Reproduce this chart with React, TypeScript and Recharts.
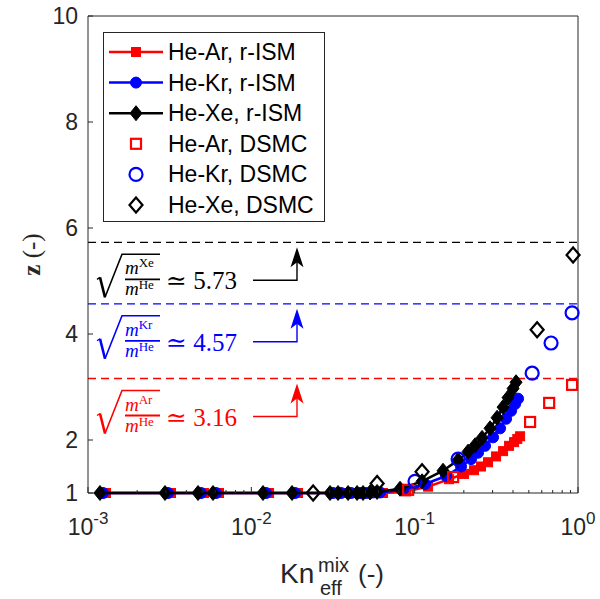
import React from 'react';
import { ComposedChart, Scatter, XAxis, YAxis, ReferenceLine } from 'recharts';

const AXIS = '#262626';
const RED = '#ff0000';
const BLUE = '#0000ff';
const BLACK = '#000000';
const SANS = '"Liberation Sans", Arial, sans-serif';
const SERIF = '"Liberation Serif", "DejaVu Serif", serif';

// r-ISM curves: effective mixture Knudsen number and z
const knArIsm = [0.001289, 0.003223, 0.005134, 0.00634, 0.01284, 0.01932, 0.03302, 0.03696, 0.04255, 0.04831, 0.05256, 0.05802, 0.06405, 0.08858, 0.1208, 0.1624, 0.2007, 0.231, 0.2549, 0.2813, 0.315, 0.3478, 0.3784, 0.4062, 0.425, 0.442];
const zArIsm = [1, 1, 1, 1, 1, 1, 1, 1, 1, 1, 1, 1, 1.0, 1.03, 1.12, 1.26, 1.36, 1.43, 1.5, 1.58, 1.69, 1.79, 1.89, 1.96, 2.02, 2.07];

const knKrIsm = [0.001235, 0.00309, 0.004921, 0.006078, 0.0123, 0.01852, 0.03166, 0.03543, 0.04078, 0.04629, 0.0504, 0.05563, 0.0614, 0.08489, 0.1158, 0.1557, 0.1923, 0.2215, 0.2444, 0.2698, 0.302, 0.3334, 0.3628, 0.3893, 0.4119, 0.4297];
const zKrIsm = [1, 1, 1, 1, 1, 1, 1, 1, 1, 1, 1, 1.01, 1.01, 1.06, 1.17, 1.32, 1.5, 1.64, 1.76, 1.89, 2.05, 2.22, 2.4, 2.55, 2.68, 2.78];

const knXeIsm = [0.001184, 0.002961, 0.004717, 0.005826, 0.01179, 0.01775, 0.03033, 0.03396, 0.03911, 0.0444, 0.04831, 0.05332, 0.05885, 0.08137, 0.111, 0.1492, 0.1844, 0.2123, 0.2344, 0.2587, 0.2895, 0.3196, 0.3478, 0.3731, 0.4004, 0.4177];
const zXeIsm = [1, 1, 1, 1, 1, 1, 1, 1, 1, 1, 1, 1.01, 1.02, 1.08, 1.22, 1.42, 1.62, 1.78, 1.9, 2.04, 2.22, 2.42, 2.62, 2.8, 2.97, 3.09];

// DSMC points
const knArDsmc = [0.0912, 0.172, 0.509, 0.666, 0.92];
const zArDsmc = [1.06, 1.3, 2.34, 2.7, 3.04];
const knKrDsmc = [0.1005, 0.1845, 0.524, 0.684, 0.92];
const zKrDsmc = [1.22, 1.64, 3.26, 3.83, 4.4];
const knXeDsmc = [0.0239, 0.0589, 0.111, 0.562, 0.933];
const zXeDsmc = [1.0, 1.18, 1.4, 4.08, 5.49];

// sqrt(m_gas / m_He) limits
const massRatios = [
  { gas: 'Xe', value: 5.73, color: BLACK },
  { gas: 'Kr', value: 4.57, color: BLUE },
  { gas: 'Ar', value: 3.16, color: RED },
];

const xTicks = [0.001, 0.002, 0.003, 0.004, 0.005, 0.006, 0.007, 0.008, 0.009, 0.01, 0.02, 0.03, 0.04, 0.05, 0.06, 0.07, 0.08, 0.09, 0.1, 0.2, 0.3, 0.4, 0.5, 0.6, 0.7, 0.8, 0.9, 1];
const yTicks = [1, 2, 4, 6, 8, 10];

const pts = (kn: number[], z: number[]) => kn.map((k, i) => ({ kn: k, z: z[i] }));

type MarkerKind = 'square' | 'circle' | 'diamond';

const Marker = ({ kind, cx, cy, color, open }: { kind: MarkerKind; cx: number; cy: number; color: string; open?: boolean }) => {
  const fill = open ? 'none' : color;
  const sw = open ? 2.2 : 1;
  if (kind === 'square') {
    const s = open ? 10 : 9;
    return <rect x={cx - s / 2} y={cy - s / 2} width={s} height={s} fill={fill} stroke={color} strokeWidth={sw} />;
  }
  if (kind === 'circle') {
    return <circle cx={cx} cy={cy} r={open ? 6.5 : 5.5} fill={fill} stroke={color} strokeWidth={sw} />;
  }
  const w = open ? 6.5 : 6;
  const h = open ? 7.5 : 7.5;
  return <path d={`M${cx},${cy - h} L${cx + w},${cy} L${cx},${cy + h} L${cx - w},${cy} Z`} fill={fill} stroke={color} strokeWidth={sw} />;
};

const shapeOf = (kind: MarkerKind, color: string, open?: boolean) => (p: any) =>
  <Marker kind={kind} cx={p.cx} cy={p.cy} color={color} open={open} />;

const isDecade = (v: number) => Math.abs(Math.log10(v) - Math.round(Math.log10(v))) < 1e-6;

const BottomTick = (props: any) => {
  const { x, y, payload } = props;
  const major = isDecade(payload.value);
  return (
    <g>
      <line x1={x} x2={x} y1={y} y2={y - (major ? 6 : 3)} stroke={AXIS} strokeWidth={1} />
      {major && (
        <text x={x} y={y + 42} textAnchor="middle" fill={AXIS} fontFamily={SANS} fontSize={23}>
          10<tspan dy={-11} fontSize={17}>{String(Math.round(Math.log10(payload.value)))}</tspan>
        </text>
      )}
    </g>
  );
};

const TopTick = (props: any) => {
  const { x, y, payload } = props;
  const major = isDecade(payload.value);
  return <line x1={x} x2={x} y1={y} y2={y + (major ? 6 : 3)} stroke={AXIS} strokeWidth={1} />;
};

const LeftTick = (props: any) => {
  const { x, y, payload } = props;
  return (
    <g>
      <line x1={x} x2={x + 5} y1={y} y2={y} stroke={AXIS} strokeWidth={1} />
      <text x={x - 10} y={y + 8} textAnchor="end" fill={AXIS} fontFamily={SANS} fontSize={23}>
        {payload.value}
      </text>
    </g>
  );
};

const RightTick = (props: any) => {
  const { x, y } = props;
  return <line x1={x} x2={x - 5} y1={y} y2={y} stroke={AXIS} strokeWidth={1} />;
};

// sqrt(m^gas / m^He) ≃ value, with an elbow arrow pointing at the dashed limit
const RatioNote = (props: any) => {
  const { viewBox, gas, value, color } = props;
  const x = viewBox.x;
  const y = viewBox.y;
  const cy = y + 38;
  const ax = x + 209;
  return (
    <g>
      <path d={`M${x + 9},${cy - 1} L${x + 12},${cy - 3}`} stroke={color} strokeWidth={1.4} fill="none" />
      <path d={`M${x + 12},${cy - 3} L${x + 17},${cy + 17}`} stroke={color} strokeWidth={2.6} fill="none" />
      <path d={`M${x + 17},${cy + 17} L${x + 34},${cy - 26} L${x + 72},${cy - 26}`} stroke={color} strokeWidth={1.6} fill="none" />
      <line x1={x + 37} x2={x + 72} y1={cy - 1} y2={cy - 1} stroke={color} strokeWidth={1.8} />
      <text x={x + 37} y={cy - 6} fill={color} fontFamily={SERIF} fontSize={19} fontStyle="italic">
        m<tspan dy={-7} fontSize={13} fontStyle="normal">{gas}</tspan>
      </text>
      <text x={x + 37} y={cy + 15} fill={color} fontFamily={SERIF} fontSize={19} fontStyle="italic">
        m<tspan dy={-6} fontSize={13} fontStyle="normal">He</tspan>
      </text>
      <text x={x + 78} y={cy + 9} fill={color} fontFamily={SERIF} fontSize={25}>
        ≃ {value.toFixed(2)}
      </text>
      <path d={`M${x + 165},${cy} L${ax},${cy} L${ax},${y + 18}`} stroke={color} strokeWidth={1.4} fill="none" />
      <path d={`M${ax},${y + 5} L${ax + 6.5},${y + 25} L${ax},${y + 20} L${ax - 6.5},${y + 25} Z`} fill={color} />
    </g>
  );
};

const XLabel = (props: any) => {
  const { viewBox } = props;
  const cx = viewBox.x + viewBox.width / 2;
  const base = viewBox.y + 90;
  return (
    <g fill={AXIS} fontFamily={SANS}>
      <text x={cx - 53} y={base} fontSize={28}>Kn</text>
      <text x={cx - 15} y={base - 11} fontSize={20}>mix</text>
      <text x={cx - 13} y={base + 12} fontSize={20}>eff</text>
      <text x={cx + 25} y={base} fontSize={26}>(-)</text>
    </g>
  );
};

const YLabel = (props: any) => {
  const { viewBox } = props;
  const cy = viewBox.y + viewBox.height / 2;
  const lx = 40;
  return (
    <text x={lx} y={cy} transform={`rotate(-90, ${lx}, ${cy})`} textAnchor="middle" fill={AXIS} fontFamily={SERIF} fontSize={25}>
      <tspan fontWeight="bold">z</tspan> (-)
    </text>
  );
};

const legendRows: { label: string; color: string; kind: MarkerKind; open: boolean }[] = [
  { label: 'He-Ar, r-ISM', color: RED, kind: 'square', open: false },
  { label: 'He-Kr, r-ISM', color: BLUE, kind: 'circle', open: false },
  { label: 'He-Xe, r-ISM', color: BLACK, kind: 'diamond', open: false },
  { label: 'He-Ar, DSMC', color: RED, kind: 'square', open: true },
  { label: 'He-Kr, DSMC', color: BLUE, kind: 'circle', open: true },
  { label: 'He-Xe, DSMC', color: BLACK, kind: 'diamond', open: true },
];

const LegendBox = () => (
  <svg width={223} height={191} style={{ position: 'absolute', left: 103, top: 32, display: 'block' }}>
    <rect x={0.5} y={0.5} width={221} height={189} fill="#fff" stroke={AXIS} strokeWidth={1} />
    {legendRows.map((r, i) => {
      const ry = 20 + i * 30.6;
      return (
        <g key={r.label}>
          {!r.open && <line x1={6} x2={60} y1={ry} y2={ry} stroke={r.color} strokeWidth={2.5} />}
          <Marker kind={r.kind} cx={33} cy={ry} color={r.color} open={r.open} />
          <text x={65} y={ry + 8} fill={BLACK} fontFamily={SANS} fontSize={23}>{r.label}</text>
        </g>
      );
    })}
  </svg>
);

export default function App() {
  return (
    <div style={{ position: 'absolute', left: 0, top: 0, width: 600, height: 599, background: '#fff' }}>
      <ComposedChart width={600} height={599} margin={{ top: 15, right: 21, bottom: 66, left: 28 }}>
        <XAxis
          dataKey="kn"
          type="number"
          scale="log"
          domain={[0.001, 1]}
          ticks={xTicks}
          interval={0}
          height={40}
          tickSize={0}
          tickMargin={0}
          tickLine={false}
          axisLine={{ stroke: AXIS }}
          tick={<BottomTick />}
          label={<XLabel />}
        />
        <XAxis
          xAxisId="top"
          orientation="top"
          type="number"
          scale="log"
          domain={[0.001, 1]}
          ticks={xTicks}
          interval={0}
          height={1}
          tickSize={0}
          tickMargin={0}
          tickLine={false}
          axisLine={{ stroke: AXIS }}
          tick={<TopTick />}
        />
        <YAxis
          dataKey="z"
          type="number"
          domain={[1, 10]}
          ticks={yTicks}
          interval={0}
          width={60}
          tickSize={0}
          tickMargin={0}
          tickLine={false}
          axisLine={{ stroke: AXIS }}
          tick={<LeftTick />}
          label={<YLabel />}
        />
        <YAxis
          yAxisId="right"
          orientation="right"
          type="number"
          domain={[1, 10]}
          ticks={yTicks}
          interval={0}
          width={1}
          tickSize={0}
          tickMargin={0}
          tickLine={false}
          axisLine={{ stroke: AXIS }}
          tick={<RightTick />}
        />
        {massRatios.map((m) => (
          <ReferenceLine
            key={m.gas}
            y={m.value}
            stroke={m.color}
            strokeWidth={1.3}
            strokeDasharray="8 5"
            label={<RatioNote gas={m.gas} value={m.value} color={m.color} />}
          />
        ))}
        <Scatter data={pts(knArIsm, zArIsm)} fill={RED} line={{ stroke: RED, strokeWidth: 2.5 }} shape={shapeOf('square', RED)} isAnimationActive={false} />
        <Scatter data={pts(knKrIsm, zKrIsm)} fill={BLUE} line={{ stroke: BLUE, strokeWidth: 2.5 }} shape={shapeOf('circle', BLUE)} isAnimationActive={false} />
        <Scatter data={pts(knXeIsm, zXeIsm)} fill={BLACK} line={{ stroke: BLACK, strokeWidth: 2.5 }} shape={shapeOf('diamond', BLACK)} isAnimationActive={false} />
        <Scatter data={pts(knArDsmc, zArDsmc)} fill="none" shape={shapeOf('square', RED, true)} isAnimationActive={false} />
        <Scatter data={pts(knKrDsmc, zKrDsmc)} fill="none" shape={shapeOf('circle', BLUE, true)} isAnimationActive={false} />
        <Scatter data={pts(knXeDsmc, zXeDsmc)} fill="none" shape={shapeOf('diamond', BLACK, true)} isAnimationActive={false} />
      </ComposedChart>
      <LegendBox />
    </div>
  );
}
